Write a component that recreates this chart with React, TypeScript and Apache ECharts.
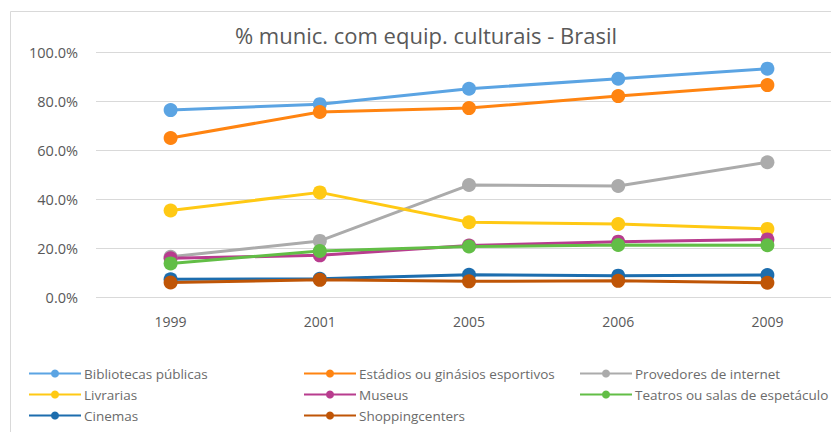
import React, { useEffect, useRef } from "react";
import * as echarts from "echarts";

const years = ["1999", "2001", "2005", "2006", "2009"];
const bibliotecas = [76.3, 78.7, 85.0, 89.1, 93.2];
const estadios = [64.9, 75.5, 77.1, 82.0, 86.5];
const provedores = [16.4, 22.9, 45.7, 45.3, 55.0];
const livrarias = [35.3, 42.7, 30.5, 29.8, 27.8];
const museus = [15.8, 17.0, 21.0, 22.6, 23.5];
const teatros = [13.7, 18.8, 20.6, 21.2, 21.1];
const cinemas = [7.2, 7.4, 9.1, 8.7, 9.0];
const shopping = [5.9, 7.0, 6.4, 6.6, 5.8];

const seriesDefs = [
  { name: "Bibliotecas públicas", data: bibliotecas, color: "#5BA4E3" },
  { name: "Estádios ou ginásios esportivos", data: estadios, color: "#FF8411" },
  { name: "Provedores de internet", data: provedores, color: "#ABABAB" },
  { name: "Livrarias", data: livrarias, color: "#FFC914" },
  { name: "Museus", data: museus, color: "#B83C8E" },
  { name: "Teatros ou salas de espetáculo", data: teatros, color: "#62BE46" },
  { name: "Cinemas", data: cinemas, color: "#1C6DAE" },
  { name: "Shoppingcenters", data: shopping, color: "#BF5506" },
];

const legendCols = [
  ["Bibliotecas públicas", "Livrarias", "Cinemas"],
  ["Estádios ou ginásios esportivos", "Museus", "Shoppingcenters"],
  ["Provedores de internet", "Teatros ou salas de espetáculo"],
];
const legendLeft = [28, 303, 579];

export default function App() {
  const ref = useRef<HTMLDivElement>(null);
  useEffect(() => {
    if (!ref.current) return;
    const chart = echarts.init(ref.current, null, { renderer: "svg" });
    const font = "'Open Sans', 'Liberation Sans', sans-serif";
    chart.setOption({
      animation: false,
      backgroundColor: "#ffffff",
      textStyle: { fontFamily: font },
      title: {
        text: "% munic. com equip. culturais - Brasil",
        left: 421,
        textAlign: "center",
        top: 19,
        textStyle: { fontSize: 22, fontWeight: "normal", color: "#595959", fontFamily: font },
      },
      graphic: [
        {
          type: "rect",
          shape: { x: 10.5, y: 11.5, width: 840, height: 440 },
          style: { fill: "none", stroke: "#d9d9d9", lineWidth: 1 },
          silent: true,
          z: -1,
        },
      ],
      legend: legendCols.map((col, i) => ({
        data: col,
        orient: "vertical",
        left: legendLeft[i],
        top: 364,
        itemWidth: 52,
        itemHeight: 10,
        itemGap: 2,
        textStyle: {
          fontSize: 13.5,
          lineHeight: 19,
          color: "#6b6b6b",
          fontFamily: font,
          padding: [0, 0, 0, -2],
        },
        padding: 0,
      })),
      grid: {
        left: 96,
        top: 52,
        width: 746,
        height: 245,
        containLabel: false,
        outerBoundsMode: "none",
      },
      xAxis: {
        type: "category",
        data: years,
        boundaryGap: true,
        axisLine: { show: false },
        axisTick: { show: false },
        axisLabel: { color: "#595959", fontSize: 14, margin: 17 },
      },
      yAxis: {
        type: "value",
        min: 0,
        max: 100,
        interval: 20,
        axisLine: { show: false },
        axisTick: { show: false },
        axisLabel: {
          color: "#595959",
          fontSize: 14.5,
          margin: 18,
          formatter: (v: number) => v.toFixed(1) + "%",
        },
        splitLine: { lineStyle: { color: "#d9d9d9", width: 1 } },
      },
      series: seriesDefs.map((s) => ({
        name: s.name,
        type: "line",
        data: s.data,
        symbol: "circle",
        symbolSize: 14,
        lineStyle: { color: s.color, width: 3 },
        itemStyle: { color: s.color },
      })),
    });
    return () => chart.dispose();
  }, []);
  return (
    <div
      ref={ref}
      style={{ position: "absolute", left: 0, top: 0, width: 831, height: 432 }}
    />
  );
}
